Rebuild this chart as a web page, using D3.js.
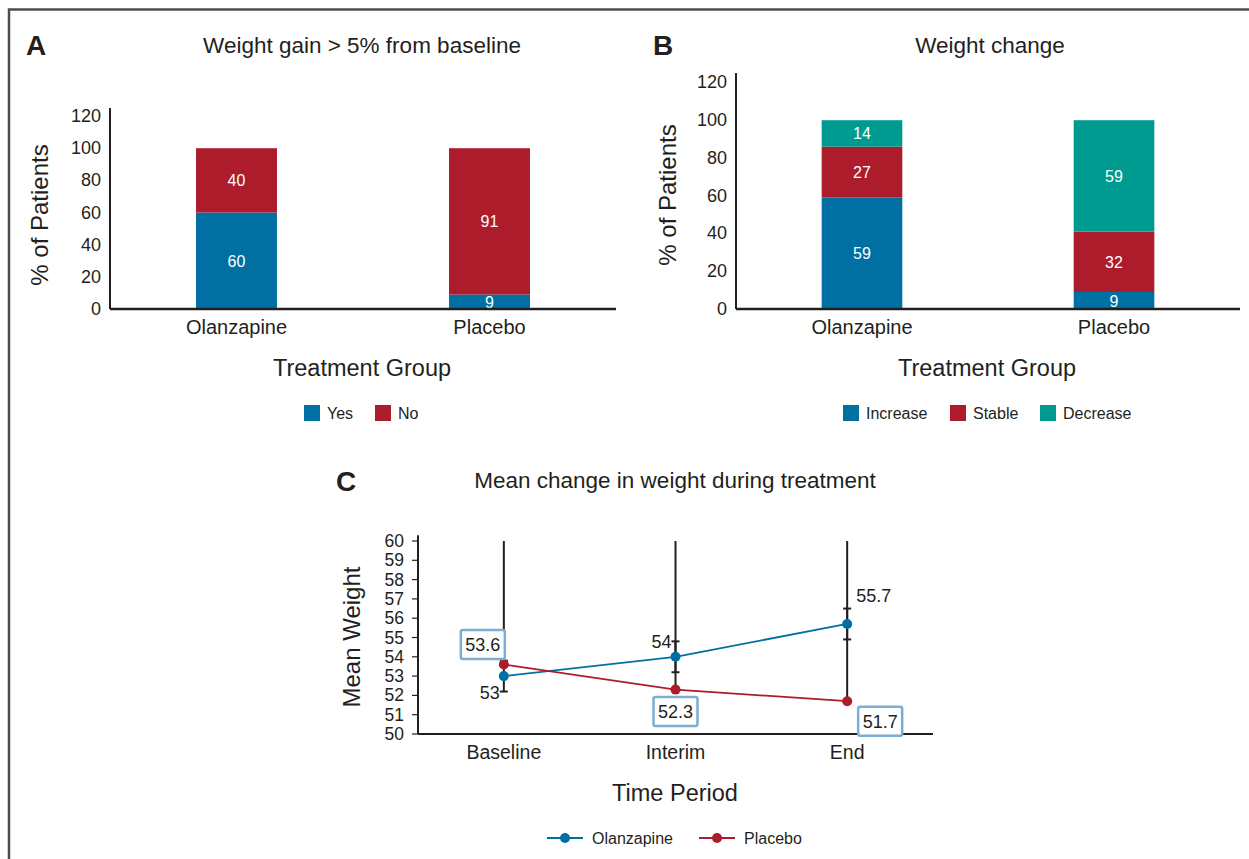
<!DOCTYPE html>
<html>
<head>
<meta charset="utf-8">
<script src="https://cdn.jsdelivr.net/npm/d3@7"></script>
<style>
  body { margin: 0; background: #fff; }
  svg text { font-family: "Liberation Sans", Arial, sans-serif; fill: #231f20; }
</style>
</head>
<body>
<script>
// ---- data ----
const groups = ["Olanzapine", "Placebo"]

const gainKeys = ["Yes", "No"]
const gainYes = [60, 9]
const gainNo = [40, 91]

const changeKeys = ["Increase", "Stable", "Decrease"]
const changeIncrease = [59, 9]
const changeStable = [27, 32]
const changeDecrease = [14, 59]

const periods = ["Baseline", "Interim", "End"]
const olzMean = [53, 54, 55.7]
const olzErr = [0.8, 0.8, 0.8]
const plaMean = [53.6, 52.3, 51.7]
const plaErrUp = [10, 10, 10]   // runs off the top of the axis

const pctTicks = [0, 20, 40, 60, 80, 100, 120]
const weightTicks = [50, 51, 52, 53, 54, 55, 56, 57, 58, 59, 60]

const blue = "#0070a3"
const red = "#ac1c2b"
const teal = "#009b90"
const boxBlue = "#7aaed2"

let W = 1249, H = 859

let svg = d3.select("body").append("svg")
            .attr("width", W)
            .attr("height", H)

// frame
svg.append("path")
    .attr("d", "M9,859V9.5H1249")
    .attr("fill", "none")
    .attr("stroke", "#4d4d4d")
    .attr("stroke-width", 2.5)

function stackedPanel(o) {
    let g = svg.append("g")

    let x = d3.scaleBand().domain(groups).range([o.x0, o.x1]).paddingInner(0.68).paddingOuter(0.34)
    let y = d3.scaleLinear().domain([0, 125]).range([o.y0, o.yTop])

    let rows = groups.map((gr, i) => {
        let r = { group: gr }
        o.keys.forEach((k, j) => r[k] = o.values[j][i])
        return r
    })
    let series = d3.stack().keys(o.keys)(rows)

    let layer = g.selectAll("g.layer")
                    .data(series)
                    .enter()
                    .append("g")
                    .attr("fill", (d, i) => o.colors[i])

    layer.selectAll("rect")
        .data(d => d)
        .enter()
        .append("rect")
        .attr("x", d => x(d.data.group))
        .attr("width", x.bandwidth())
        .attr("y", d => y(d[1]))
        .attr("height", d => y(d[0]) - y(d[1]))

    layer.selectAll("text")
        .data(d => d)
        .enter()
        .append("text")
        .attr("x", d => x(d.data.group) + x.bandwidth() / 2)
        .attr("y", d => (y(d[0]) + y(d[1])) / 2 + 6)
        .attr("text-anchor", "middle")
        .style("fill", "#fff")
        .style("font-size", "16px")
        .text(d => d[1] - d[0])

    // axes
    g.append("line")
        .attr("x1", o.x0).attr("x2", o.x0)
        .attr("y1", y(125)).attr("y2", y(0))
        .attr("stroke", "#231f20").attr("stroke-width", 2)
    g.append("line")
        .attr("x1", o.x0).attr("x2", o.x1)
        .attr("y1", y(0)).attr("y2", y(0))
        .attr("stroke", "#231f20").attr("stroke-width", 2.5)

    g.selectAll("text.ytick")
        .data(pctTicks)
        .enter()
        .append("text")
        .attr("x", o.x0 - 9)
        .attr("y", d => y(d) + 6)
        .attr("text-anchor", "end")
        .style("font-size", "18px")
        .text(d => d)

    g.selectAll("text.xtick")
        .data(groups)
        .enter()
        .append("text")
        .attr("x", d => x(d) + x.bandwidth() / 2)
        .attr("y", o.y0 + 25)
        .attr("text-anchor", "middle")
        .style("font-size", "20px")
        .text(d => d)

    g.append("text")
        .attr("x", (o.x0 + o.x1) / 2 - 1)
        .attr("y", o.y0 + 67)
        .attr("text-anchor", "middle")
        .style("font-size", "23.5px")
        .text("Treatment Group")

    g.append("text")
        .attr("transform", "translate(" + o.ylabX + "," + o.ylabY + ") rotate(-90)")
        .attr("text-anchor", "middle")
        .style("font-size", "24px")
        .text("%  of Patients")

    g.append("text")
        .attr("x", o.titleX)
        .attr("y", 53)
        .attr("text-anchor", "middle")
        .style("font-size", "22.5px")
        .text(o.title)

    g.append("text")
        .attr("x", o.letterX)
        .attr("y", 55)
        .style("font-size", "28px")
        .style("font-weight", "bold")
        .text(o.letter)

    // legend
    let leg = g.selectAll("g.leg")
                .data(o.keys)
                .enter()
                .append("g")
                .attr("transform", (d, i) => "translate(" + o.legX[i] + ",405)")
    leg.append("rect")
        .attr("width", 16).attr("height", 16)
        .attr("fill", (d, i) => o.colors[i])
    leg.append("text")
        .attr("x", 23)
        .attr("y", 14)
        .style("font-size", "16px")
        .text(d => d)
}

stackedPanel({
    x0: 110, x1: 616, y0: 309, yTop: 108,
    keys: gainKeys, values: [gainYes, gainNo], colors: [blue, red],
    title: "Weight gain > 5% from baseline", titleX: 362,
    letter: "A", letterX: 26, ylabX: 48, ylabY: 215,
    legX: [304, 375]
})

stackedPanel({
    x0: 736, x1: 1240, y0: 309, yTop: 73,
    keys: changeKeys, values: [changeIncrease, changeStable, changeDecrease], colors: [blue, red, teal],
    title: "Weight change", titleX: 990,
    letter: "B", letterX: 653, ylabX: 676, ylabY: 195,
    legX: [843, 950, 1040]
})

// ---- panel C ----
let c = svg.append("g")
let cx = d3.scaleBand().domain(periods).range([418, 933])
let cy = d3.scaleLinear().domain([50, 60]).range([734, 541])
let px = d => cx(d) + cx.bandwidth() / 2

c.append("line")
    .attr("x1", 418).attr("x2", 418)
    .attr("y1", cy(60.3)).attr("y2", cy(50))
    .attr("stroke", "#231f20").attr("stroke-width", 2)
c.append("line")
    .attr("x1", 418).attr("x2", 933)
    .attr("y1", cy(50)).attr("y2", cy(50))
    .attr("stroke", "#231f20").attr("stroke-width", 2)

c.selectAll("line.ytick")
    .data(weightTicks)
    .enter()
    .append("line")
    .attr("x1", 412).attr("x2", 418)
    .attr("y1", d => cy(d)).attr("y2", d => cy(d))
    .attr("stroke", "#231f20").attr("stroke-width", 1.2)

c.selectAll("text.ytick")
    .data(weightTicks)
    .enter()
    .append("text")
    .attr("x", 404)
    .attr("y", d => cy(d) + 6)
    .attr("text-anchor", "end")
    .style("font-size", "17.5px")
    .text(d => d)

c.selectAll("text.xtick")
    .data(periods)
    .enter()
    .append("text")
    .attr("x", d => px(d))
    .attr("y", 759)
    .attr("text-anchor", "middle")
    .style("font-size", "19.5px")
    .text(d => d)

c.append("text")
    .attr("x", 675)
    .attr("y", 801)
    .attr("text-anchor", "middle")
    .style("font-size", "23.5px")
    .text("Time Period")

c.append("text")
    .attr("transform", "translate(360,637) rotate(-90)")
    .attr("text-anchor", "middle")
    .style("font-size", "24px")
    .text("Mean Weight")

c.append("text")
    .attr("x", 675)
    .attr("y", 488)
    .attr("text-anchor", "middle")
    .style("font-size", "22.5px")
    .text("Mean change in weight during treatment")

c.append("text")
    .attr("x", 336)
    .attr("y", 491)
    .style("font-size", "28px")
    .style("font-weight", "bold")
    .text("C")

// error bars: placebo runs past the top, clipped at 60
let clip = v => Math.min(v, 60)
c.selectAll("line.plaErr")
    .data(periods)
    .enter()
    .append("line")
    .attr("x1", d => px(d)).attr("x2", d => px(d))
    .attr("y1", (d, i) => cy(plaMean[i]))
    .attr("y2", (d, i) => cy(clip(plaMean[i] + plaErrUp[i])))
    .attr("stroke", "#231f20").attr("stroke-width", 2)

c.selectAll("line.olzErr")
    .data(periods)
    .enter()
    .append("line")
    .attr("x1", d => px(d)).attr("x2", d => px(d))
    .attr("y1", (d, i) => cy(olzMean[i] - olzErr[i]))
    .attr("y2", (d, i) => cy(olzMean[i] + olzErr[i]))
    .attr("stroke", "#231f20").attr("stroke-width", 2)

let caps = []
periods.forEach((p, i) => {
    caps.push({ p: p, v: olzMean[i] - olzErr[i] })
    caps.push({ p: p, v: olzMean[i] + olzErr[i] })
})
c.selectAll("line.cap")
    .data(caps)
    .enter()
    .append("line")
    .attr("x1", d => px(d.p) - 4).attr("x2", d => px(d.p) + 4)
    .attr("y1", d => cy(d.v)).attr("y2", d => cy(d.v))
    .attr("stroke", "#231f20").attr("stroke-width", 2)

let line = d3.line().x(d => px(d.p)).y(d => cy(d.v))
let seriesC = [
    { name: "Olanzapine", color: blue, pts: periods.map((p, i) => ({ p: p, v: olzMean[i] })) },
    { name: "Placebo", color: red, pts: periods.map((p, i) => ({ p: p, v: plaMean[i] })) }
]

seriesC.forEach(s => {
    c.append("path")
        .attr("d", line(s.pts))
        .attr("fill", "none")
        .attr("stroke", s.color)
        .attr("stroke-width", 1.8)
    c.selectAll(null)
        .data(s.pts)
        .enter()
        .append("circle")
        .attr("cx", d => px(d.p))
        .attr("cy", d => cy(d.v))
        .attr("r", 5)
        .attr("fill", s.color)
})

// olanzapine value labels
let olzLab = [
    { dx: -4, dy: 7, at: -1, anchor: "end" },
    { dx: -4, dy: 7, at: 1, anchor: "end" },
    { dx: 9, dy: -22, at: 0, anchor: "start" }
]
c.selectAll("text.olzLab")
    .data(periods)
    .enter()
    .append("text")
    .attr("x", (d, i) => px(d) + olzLab[i].dx)
    .attr("y", (d, i) => cy(olzMean[i] + olzLab[i].at * olzErr[i]) + olzLab[i].dy)
    .attr("text-anchor", (d, i) => olzLab[i].anchor)
    .style("font-size", "18px")
    .text((d, i) => olzMean[i])

// placebo value labels in boxes
let plaLab = [{ dx: -21, dy: -20 }, { dx: 0, dy: 22 }, { dx: 33, dy: 20 }]
let pl = c.selectAll("g.plaLab")
            .data(periods)
            .enter()
            .append("g")
            .attr("transform", (d, i) => "translate(" + (px(d) + plaLab[i].dx) + "," + (cy(plaMean[i]) + plaLab[i].dy) + ")")
pl.append("rect")
    .attr("x", -22).attr("y", -14.5)
    .attr("width", 44).attr("height", 29)
    .attr("rx", 2)
    .attr("fill", "#fff")
    .attr("stroke", boxBlue)
    .attr("stroke-width", 2.5)
pl.append("text")
    .attr("y", 6.5)
    .attr("text-anchor", "middle")
    .style("font-size", "18px")
    .text((d, i) => plaMean[i])

// legend C
let lc = c.selectAll("g.legC")
            .data(seriesC)
            .enter()
            .append("g")
            .attr("transform", (d, i) => "translate(" + [547, 699][i] + ",838)")
lc.append("line")
    .attr("x1", 0).attr("x2", 36)
    .attr("stroke", d => d.color).attr("stroke-width", 1.8)
lc.append("circle")
    .attr("cx", 18).attr("r", 5)
    .attr("fill", d => d.color)
lc.append("text")
    .attr("x", 45)
    .attr("y", 6)
    .style("font-size", "16px")
    .text(d => d.name)
</script>
</body>
</html>
